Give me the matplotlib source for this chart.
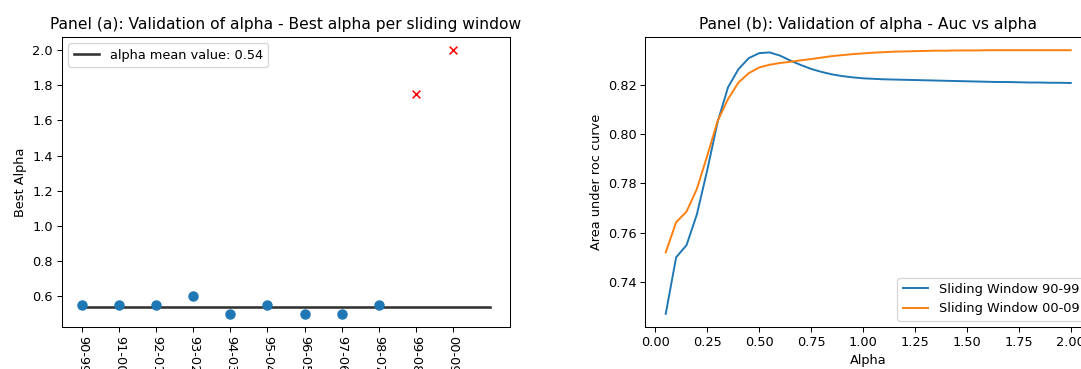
import numpy as np
import matplotlib
matplotlib.use('Agg')
import matplotlib.pyplot as plt

# panel (a): best alpha per sliding window
windows = ['90-99', '91-00', '92-01', '93-02', '94-03', '95-04',
           '96-05', '97-06', '98-07', '99-08', '00-09']
best_alpha = [0.55, 0.55, 0.55, 0.60, 0.50, 0.55, 0.50, 0.50, 0.55, 1.75, 2.00]
outlier_idx = [9, 10]

# panel (b): auc vs alpha
alphas = [0.05, 0.10, 0.15, 0.20, 0.25, 0.30, 0.35, 0.40, 0.45, 0.50,
          0.55, 0.60, 0.65, 0.70, 0.75, 0.80, 0.85, 0.90, 0.95, 1.00,
          1.05, 1.10, 1.15, 1.20, 1.25, 1.30, 1.35, 1.40, 1.45, 1.50,
          1.55, 1.60, 1.65, 1.70, 1.75, 1.80, 1.85, 1.90, 1.95, 2.00]
auc_90_99 = [0.7272, 0.7501, 0.7550, 0.7675, 0.7855, 0.8050, 0.8190, 0.8263, 0.8308, 0.8328,
             0.8331, 0.8318, 0.8298, 0.8280, 0.8264, 0.8252, 0.8242, 0.8235, 0.8230, 0.8226,
             0.8224, 0.8222, 0.8221, 0.8220, 0.8219, 0.8218, 0.8217, 0.8216, 0.8215, 0.8214,
             0.8213, 0.8212, 0.8211, 0.8211, 0.8210, 0.8209, 0.8209, 0.8208, 0.8208, 0.8207]
auc_00_09 = [0.7521, 0.7643, 0.7686, 0.7778, 0.7913, 0.8054, 0.8142, 0.8209, 0.8247, 0.8270,
             0.8281, 0.8288, 0.8293, 0.8299, 0.8304, 0.8310, 0.8316, 0.8320, 0.8324, 0.8327,
             0.8330, 0.8332, 0.8334, 0.8335, 0.8336, 0.8337, 0.8338, 0.8338, 0.8339, 0.8339,
             0.8339, 0.8340, 0.8340, 0.8340, 0.8340, 0.8340, 0.8340, 0.8340, 0.8340, 0.8340]

W, H = 1081, 369
DPI = 93
fig = plt.figure(figsize=(W / DPI, H / DPI), dpi=DPI)
# axes placed in pixels of the reference picture
ax1 = fig.add_axes([62 / W, 42 / H, 448 / W, 290 / H])
ax2 = fig.add_axes([645.5 / W, 42 / H, 445.5 / W, 290 / H])

# --- panel (a)
x = np.arange(len(windows))
normal_idx = [i for i in x if i not in outlier_idx]
normal_vals = [best_alpha[i] for i in normal_idx]
mean_val = np.mean(normal_vals)

ax1.plot([0, len(windows)], [mean_val, mean_val], color='#333333', lw=2,
         label=f'alpha mean value: {mean_val:.2f}')
ax1.scatter(normal_idx, normal_vals, s=50, color='#1f77b4', zorder=3)
ax1.scatter(outlier_idx, [best_alpha[i] for i in outlier_idx], marker='x',
            s=36, color='red', linewidths=1.2, zorder=3)
ax1.set_xticks(x)
ax1.set_xticklabels(windows, rotation=-90)
ax1.set_ylabel('Best Alpha')
ax1.set_title('Panel (a): Validation of alpha - Best alpha per sliding window')
ax1.legend(loc='upper left')

# --- panel (b)
ax2.plot(alphas, auc_90_99, color='#1f77b4', lw=1.5, label='Sliding Window 90-99')
ax2.plot(alphas, auc_00_09, color='#ff7f0e', lw=1.5, label='Sliding Window 00-09')
ax2.set_xlabel('Alpha')
ax2.set_ylabel('Area under roc curve')
ax2.set_title('Panel (b): Validation of alpha - Auc vs alpha')
ax2.legend(loc='lower right')

plt.savefig('out.png', dpi=DPI)
